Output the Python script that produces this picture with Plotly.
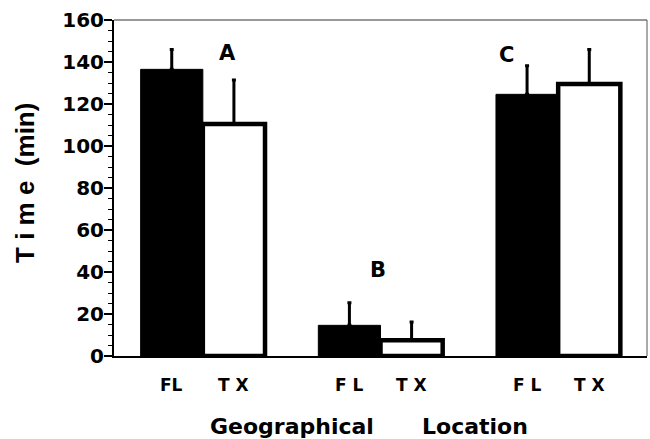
import plotly.graph_objects as go

# Data
locations = ["A", "B", "C"]
fl_values = [136.5, 14.6, 124.6]
fl_errors = [9.5, 10.7, 13.6]
tx_values = [110.5, 7.5, 129.5]
tx_errors = [20.9, 8.7, 16.5]
fl_labels = ["FL", "F L", "F L"]
tx_labels = ["T X", "T X", "T X"]
group_letters = ["A", "B", "C"]
letter_x = [0.14, 0.984, 1.71]
letter_y = [144.3, 40.8, 143.4]
y_ticks = [0, 20, 40, 60, 80, 100, 120, 140, 160]

WIDE = "DejaVu Sans, Verdana, sans-serif"
NARROW = "Liberation Sans, Arial, sans-serif"

fig = go.Figure()
fig.add_trace(go.Bar(
    x=locations, y=fl_values, name="FL",
    marker=dict(color="black", line=dict(color="black", width=1)),
    error_y=dict(type="data", array=fl_errors, arrayminus=[0, 0, 0], symmetric=False,
                 color="black", thickness=3, width=2),
))
fig.add_trace(go.Bar(
    x=locations, y=tx_values, name="TX",
    marker=dict(color="white", line=dict(color="black", width=4.5)),
    error_y=dict(type="data", array=tx_errors, arrayminus=[0, 0, 0], symmetric=False,
                 color="black", thickness=3, width=2),
))

annotations = []
half = 0.175
for i in range(len(locations)):
    annotations.append(dict(x=i - half, y=-0.086, xref="x", yref="paper", text=fl_labels[i],
                            showarrow=False, font=dict(family=WIDE, size=17, color="black", weight="bold"),
                            xanchor="center", yanchor="middle"))
    annotations.append(dict(x=i + half, y=-0.086, xref="x", yref="paper", text=tx_labels[i],
                            showarrow=False, font=dict(family=WIDE, size=17, color="black", weight="bold"),
                            xanchor="center", yanchor="middle"))
    annotations.append(dict(x=letter_x[i], y=letter_y[i], xref="x", yref="y", text=group_letters[i],
                            showarrow=False, font=dict(family=WIDE, size=21, color="black", weight="bold"),
                            xanchor="center", yanchor="middle"))

annotations.append(dict(x=0.334, y=-0.21, xref="paper", yref="paper", text="Geographical",
                        showarrow=False, font=dict(family=WIDE, size=22, color="black", weight="bold"),
                        xanchor="center", yanchor="middle"))
annotations.append(dict(x=0.677, y=-0.21, xref="paper", yref="paper", text="Location",
                        showarrow=False, font=dict(family=WIDE, size=22, color="black", weight="bold"),
                        xanchor="center", yanchor="middle"))
annotations.append(dict(x=-0.167, y=0.515, xref="paper", yref="paper",
                        text="T i m e\u00a0\u00a0(min)",
                        showarrow=False, textangle=-90,
                        font=dict(family=NARROW, size=26, color="black", weight="bold"),
                        xanchor="center", yanchor="middle"))

fig.update_layout(
    width=650, height=439,
    margin=dict(l=114, r=3, t=20, b=83),
    paper_bgcolor="white", plot_bgcolor="white",
    barmode="group", bargap=0.3, bargroupgap=0,
    showlegend=False,
    annotations=annotations,
    font=dict(family=WIDE, color="black"),
    shapes=[
        dict(type="line", xref="paper", yref="paper", x0=0, x1=1, y0=1, y1=1,
             line=dict(color="#333333", width=1.2)),
        dict(type="line", xref="paper", yref="paper", x0=1, x1=1, y0=0, y1=1,
             line=dict(color="#555555", width=1)),
    ],
)
fig.update_xaxes(range=[-0.5, 2.5], showticklabels=False, ticks="", showgrid=False,
                 showline=True, linecolor="black", linewidth=1.5, zeroline=False)
fig.update_yaxes(range=[0, 160], tickvals=y_ticks, ticktext=[str(v) for v in y_ticks],
                 ticks="outside", ticklen=8, tickwidth=1.5, tickcolor="black",
                 ticklabelstandoff=-4,
                 minor=dict(dtick=5, ticks="outside", ticklen=4, tickwidth=1, tickcolor="black", showgrid=False),
                 tickfont=dict(family=WIDE, size=20, color="black", weight="bold"),
                 showgrid=False, zeroline=False, showline=True, linecolor="black", linewidth=2)

fig.write_html("out.html", config={"displayModeBar": False},
               post_script="document.body.style.margin='0px';")
